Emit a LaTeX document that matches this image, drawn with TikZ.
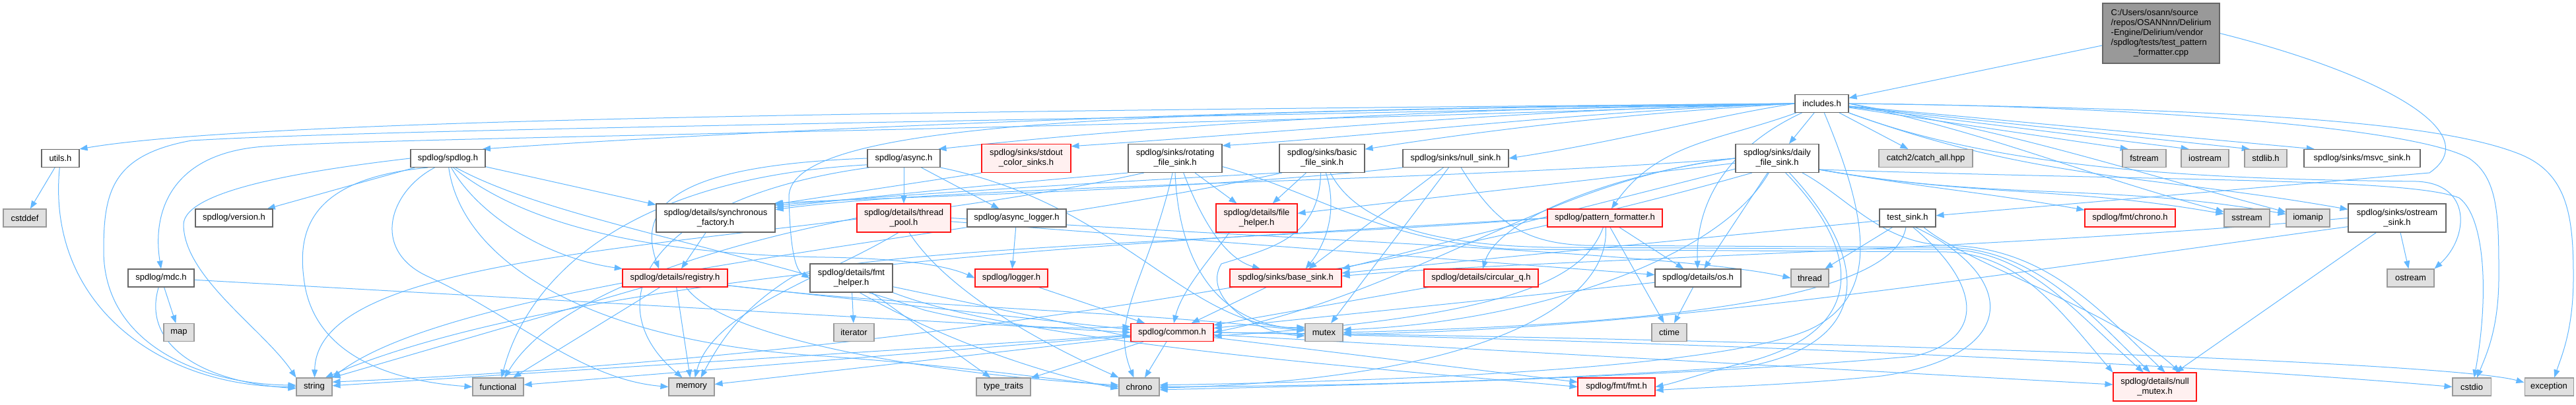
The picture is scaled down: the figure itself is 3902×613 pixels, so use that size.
\documentclass[tikz,border=0pt]{standalone}
\usepackage{fontspec}
\setmainfont{Liberation Sans}
\usetikzlibrary{arrows.meta}
\definecolor{edgec}{RGB}{99,184,255}
\definecolor{nborder}{RGB}{102,102,102}
\definecolor{sysfill}{RGB}{224,224,224}
\definecolor{sysborder}{RGB}{153,153,153}
\definecolor{redfill}{RGB}{255,240,240}
\definecolor{redborder}{RGB}{255,20,20}
\definecolor{topfill}{RGB}{153,153,153}
\pgfdeclarelayer{bg}
\pgfdeclarelayer{edges}
\pgfsetlayers{bg,edges,main}
\tikzset{
  nbase/.style={rectangle, inner sep=0pt, align=center, font=\fontsize{13}{15}\selectfont, line width=1.1pt, minimum height=27pt},
  hdr/.style={nbase, draw=nborder, fill=white},
  redn/.style={nbase, draw=redborder, fill=redfill},
  sysn/.style={nbase, draw=sysborder, fill=sysfill},
  topn/.style={nbase, draw=nborder, fill=topfill},
  twoline/.style={minimum height=43pt},
  dep/.style={draw=edgec, line width=1pt, -{Triangle[length=12pt,width=9pt]}},
}
\begin{document}
\begin{tikzpicture}[x=1pt,y=1pt]
\begin{pgfonlayer}{bg}
\fill[white] (0,0) rectangle (3902,-613);
\end{pgfonlayer}
\useasboundingbox (0,0) rectangle (3902,-613);

% ---------------- nodes ----------------
\node[topn, minimum width=177pt, minimum height=91pt] (top) at (3273.5,-50.5) {\begin{tabular}{@{}l@{}}C:/Users/osann/source\\/repos/OSANNnn/Delirium\\-Engine/Delirium/vendor\\/spdlog/tests/test\_pattern\\\multicolumn{1}{@{}c@{}}{\_formatter.cpp}\end{tabular}};
\node[hdr, minimum width=81pt] (inc) at (2759.5,-157) {includes.h};
\node[hdr, minimum width=57pt] (utils) at (91.5,-240) {utils.h};
\node[sysn, minimum width=65pt] (cstddef) at (37.5,-330.5) {cstddef};
\node[hdr, minimum width=117pt] (version) at (354.5,-330.5) {spdlog/version.h};
\node[hdr, minimum width=100pt] (mdc) at (244,-421.5) {spdlog/mdc.h};
\node[sysn, minimum width=46pt] (map) at (271,-504) {map};
\node[sysn, minimum width=54pt] (str) at (476,-586.5) {string};
\node[hdr, minimum width=113pt] (spd) at (678.5,-240) {spdlog/spdlog.h};
\node[hdr, twoline, minimum width=180pt] (sync) at (1084,-330.5) {spdlog/details/synchronous\\\_factory.h};
\node[redn, minimum width=159pt] (reg) at (1022.5,-421.5) {spdlog/details/registry.h};
\node[sysn, minimum width=77pt] (func) at (754.5,-586.5) {functional};
\node[sysn, minimum width=69pt] (mem) at (1047.5,-586.5) {memory};
\node[hdr, minimum width=110pt] (async) at (1369,-240) {spdlog/async.h};
\node[redn, twoline, minimum width=135pt] (stdc) at (1554.5,-240) {spdlog/sinks/stdout\\\_color\_sinks.h};
\node[hdr, twoline, minimum width=142pt] (rot) at (1780,-240) {spdlog/sinks/rotating\\\_file\_sink.h};
\node[redn, twoline, minimum width=142pt] (tp) at (1369,-330.5) {spdlog/details/thread\\\_pool.h};
\node[hdr, minimum width=150pt] (alog) at (1540,-330.5) {spdlog/async\_logger.h};
\node[hdr, twoline, minimum width=125pt] (fmth) at (1289.5,-421.5) {spdlog/details/fmt\\\_helper.h};
\node[redn, minimum width=110pt] (logger) at (1532,-421.5) {spdlog/logger.h};
\node[sysn, minimum width=61pt] (iter) at (1293.5,-504) {iterator};
\node[redn, minimum width=125pt] (common) at (1775.5,-504) {spdlog/common.h};
\node[sysn, minimum width=82pt] (tt) at (1520,-586.5) {type\_traits};
\node[sysn, minimum width=61pt] (chrono) at (1725.5,-586.5) {chrono};
\node[hdr, twoline, minimum width=129pt] (basic) at (2002.5,-240) {spdlog/sinks/basic\\\_file\_sink.h};
\node[hdr, minimum width=160pt] (nulls) at (2205,-240) {spdlog/sinks/null\_sink.h};
\node[redn, twoline, minimum width=123pt] (fileh) at (1903.5,-330.5) {spdlog/details/file\\\_helper.h};
\node[redn, minimum width=174pt] (pf) at (2431,-330.5) {spdlog/pattern\_formatter.h};
\node[redn, minimum width=169pt] (bsink) at (1947.5,-421.5) {spdlog/sinks/base\_sink.h};
\node[redn, minimum width=173pt] (circ) at (2243.5,-421.5) {spdlog/details/circular\_q.h};
\node[sysn, minimum width=57pt] (mutex) at (2005.5,-504) {mutex};
\node[redn, minimum width=117pt] (fmt) at (2448.5,-586.5) {spdlog/fmt/fmt.h};
\node[hdr, twoline, minimum width=126pt] (daily) at (2692,-240) {spdlog/sinks/daily\\\_file\_sink.h};
\node[sysn, minimum width=142pt] (catch) at (2917,-240) {catch2/catch\_all.hpp};
\node[hdr, minimum width=85pt] (tsink) at (2889.5,-330.5) {test\_sink.h};
\node[hdr, minimum width=130pt] (os) at (2572,-421.5) {spdlog/details/os.h};
\node[sysn, minimum width=57pt] (thread) at (2741.5,-421.5) {thread};
\node[sysn, minimum width=53pt] (ctime) at (2528.5,-504) {ctime};
\node[sysn, minimum width=66pt] (fstream) at (3248,-240) {fstream};
\node[sysn, minimum width=72pt] (iostream) at (3340,-240) {iostream};
\node[sysn, minimum width=64pt] (stdlib) at (3432,-240) {stdlib.h};
\node[hdr, minimum width=176pt] (msvc) at (3578,-240) {spdlog/sinks/msvc\_sink.h};
\node[redn, minimum width=137pt] (fchrono) at (3226.5,-330.5) {spdlog/fmt/chrono.h};
\node[sysn, minimum width=69pt] (sstream) at (3403.5,-330.5) {sstream};
\node[sysn, minimum width=66pt] (iomanip) at (3496,-330.5) {iomanip};
\node[hdr, twoline, minimum width=148pt] (osink) at (3631,-330.5) {spdlog/sinks/ostream\\\_sink.h};
\node[sysn, minimum width=71pt] (ostream) at (3651.5,-421.5) {ostream};
\node[redn, twoline, minimum width=126pt] (nmutex) at (3264,-586.5) {spdlog/details/null\\\_mutex.h};
\node[sysn, minimum width=58pt] (cstdio) at (3744,-586.5) {cstdio};
\node[sysn, minimum width=74pt] (exc) at (3861,-586.5) {exception};

% ---------------- edges ----------------
\begin{pgfonlayer}{edges}
% source file
\draw[dep] (top) -- (inc);
\draw[dep] (top.east) .. controls (3600,-110) and (3770,-200) .. (3680,-262) -- (tsink);
% includes.h
\draw[dep] (inc) -- (catch);
\draw[dep] (inc) -- (daily);
\draw[dep] (inc) to[out=200,in=55] (pf);
\draw[dep] (inc) to[out=205,in=92] (os);
\draw[dep] (inc.-75) .. controls (2830,-330) and (2850,-450) .. (2740,-500) .. controls (2600,-560) and (2100,-578) .. (chrono.5);
\draw[dep] (inc.west) .. controls (1900,-162) and (1100,-200) .. (spd.15);
\draw[dep] (inc.west) .. controls (2200,-164) and (1800,-185) .. (async.15);
\draw[dep] (inc.west) .. controls (2300,-166) and (1950,-200) .. (stdc.15);
\draw[dep] (inc.west) .. controls (2400,-168) and (2100,-205) .. (rot.15);
\draw[dep] (inc.west) .. controls (2500,-170) and (2300,-190) .. (basic.12);
\draw[dep] (inc.west) .. controls (2600,-175) and (2450,-215) .. (nulls.east);
\draw[dep] (inc.west) .. controls (1800,-170) and (1190,-175) .. (1195,-300) .. controls (1197,-380) and (1205,-410) .. (fmth.west);
\draw[dep] (inc.west) .. controls (1500,-200) and (600,-208) .. (400,-222) .. controls (260,-232) and (230,-320) .. (mdc.north);
\draw[dep] (inc.west) .. controls (1500,-168) and (400,-178) .. (utils.north east);
\draw[dep] (inc.west) .. controls (1500,-185) and (600,-195) .. (290,-213) .. controls (170,-235) and (157,-290) .. (157,-380) .. controls (157,-520) and (300,-582) .. (str.175);
\draw[dep] (inc) -- (fstream.150);
\draw[dep] (inc) -- (iostream.150);
\draw[dep] (inc) -- (stdlib.150);
\draw[dep] (inc) -- (msvc.169);
\draw[dep] (inc.east) to[out=-12,in=165] (sstream);
\draw[dep] (inc.east) to[out=-10,in=165] (iomanip);
\draw[dep] (inc.south east) to[out=-20,in=170] (osink);
\draw[dep] (inc.south east) .. controls (3050,-265) and (3400,-272) .. (3660,-275) .. controls (3745,-278) and (3740,-360) .. (ostream.north east);
\draw[dep] (inc.east) .. controls (3200,-160) and (3650,-190) .. (3740,-240) .. controls (3785,-270) and (3785,-330) .. (3785,-420) .. controls (3785,-500) and (3765,-540) .. (cstdio.60);
\draw[dep] (inc.east) .. controls (3400,-165) and (3700,-185) .. (3820,-235) .. controls (3890,-265) and (3898,-330) .. (3898,-420) .. controls (3898,-500) and (3880,-540) .. (exc.60);
% daily_file_sink.h
\draw[dep] (daily.west) .. controls (2450,-262) and (2270,-330) .. (circ.80);
\draw[dep] (daily) -- (os);
\draw[dep] (daily) -- (fileh);
\draw[dep] (daily) -- (bsink.north east);
\draw[dep] (daily.west) .. controls (2200,-275) and (1450,-280) .. (sync.8);
\draw[dep] (daily.west) .. controls (2350,-270) and (2150,-440) .. (common.east);
\draw[dep] (daily.-15) to[out=-10,in=170] (fchrono);
\draw[dep] (daily.-15) to[out=-10,in=170] (sstream);
\draw[dep] (daily.-15) to[out=-10,in=170] (iomanip);
\draw[dep] (daily.-30) .. controls (2800,-300) and (2850,-370) .. (2950,-372) .. controls (3100,-375) and (3180,-470) .. (nmutex.55);
\draw[dep] (daily.-60) .. controls (2820,-380) and (2830,-500) .. (2650,-548) .. controls (2580,-565) and (2540,-580) .. (fmt.east);
\draw[dep] (daily.-50) .. controls (2840,-400) and (2830,-520) .. (2650,-555) .. controls (2300,-580) and (2000,-585) .. (chrono.east);
\draw[dep] (daily.-15) .. controls (3300,-275) and (3650,-270) .. (3725,-300) .. controls (3765,-330) and (3770,-450) .. (cstdio.75);
\draw[dep] (daily.-120) .. controls (2600,-400) and (2300,-490) .. (mutex.8);
\draw[dep] (daily.-150) .. controls (2100,-420) and (1300,-545) .. (str.15);
% pattern_formatter.h
\draw[dep] (pf) -- (os);
\draw[dep] (pf) -- (ctime);
\draw[dep] (pf.-100) .. controls (2400,-420) and (2300,-480) .. (common.-5);
\draw[dep] (pf.-85) .. controls (2440,-460) and (2250,-575) .. (chrono.-3);
\draw[dep] (pf.west) .. controls (2000,-360) and (1300,-375) .. (1200,-420) .. controls (1120,-470) and (1090,-520) .. (mem.45);
\draw[dep] (pf.west) .. controls (1800,-365) and (900,-400) .. (str.40);
% thread_pool.h
\draw[dep] (tp) -- (os);
\draw[dep] (tp.east) .. controls (2000,-365) and (2550,-385) .. (thread.west);
\draw[dep] (tp.-70) .. controls (1440,-450) and (1600,-530) .. (chrono.north west);
\draw[dep] (tp.west) .. controls (1150,-360) and (850,-430) .. (func.55);
\draw[dep] (tp.-110) .. controls (1250,-420) and (1080,-470) .. (mem.70);
% spdlog.h
\draw[dep] (spd) -- (version);
\draw[dep] (spd) -- (sync);
\draw[dep] (spd.-70) .. controls (720,-320) and (820,-390) .. (reg.170);
\draw[dep] (spd.-60) .. controls (780,-330) and (950,-385) .. (1250,-390) .. controls (1380,-392) and (1440,-405) .. (logger.west);
\draw[dep] (spd.-50) .. controls (830,-330) and (1100,-372) .. (1400,-470) .. controls (1500,-495) and (1600,-500) .. (common.172);
\draw[dep] (spd.-85) .. controls (700,-400) and (900,-520) .. (1250,-540) .. controls (1450,-555) and (1600,-575) .. (chrono.180);
\draw[dep] (spd.-155) .. controls (480,-270) and (450,-340) .. (460,-420) .. controls (470,-520) and (560,-575) .. (func.west);
\draw[dep] (spd.-145) .. controls (590,-290) and (560,-380) .. (650,-420) .. controls (780,-480) and (880,-575) .. (mem.west);
\draw[dep] (spd.west) .. controls (450,-260) and (280,-290) .. (278,-340) .. controls (278,-420) and (400,-500) .. (str.north west);
% async.h
\draw[dep] (async) -- (tp);
\draw[dep] (async) -- (alog);
\draw[dep] (async.west) .. controls (1050,-250) and (960,-300) .. (reg.150);
\draw[dep] (async.-170) .. controls (950,-270) and (800,-420) .. (func.70);
\draw[dep] (async.-165) .. controls (980,-300) and (900,-460) .. (mem.135);
\draw[dep] (async.south east) .. controls (1700,-310) and (1800,-500) .. (mutex.165);
\draw[dep] (alog) -- (logger);
\draw[dep] (stdc.south west) -- (sync.13);
% synchronous_factory.h / registry.h
\draw[dep] (sync) -- (reg);
\draw[dep] (reg.-8) -- (common.176);
\draw[dep] (reg.-8) .. controls (1400,-468) and (1700,-470) .. (mutex.175);
\draw[dep] (reg) -- (str.north east);
\draw[dep] (reg) -- (func);
\draw[dep] (reg) -- (mem);
\draw[dep] (reg.-40) .. controls (1100,-520) and (1450,-570) .. (chrono.175);
% fmt_helper.h / logger.h
\draw[dep] (fmth) -- (iter);
\draw[dep] (fmth) -- (tt);
\draw[dep] (fmth.-60) .. controls (1400,-500) and (1550,-560) .. (chrono.-175);
\draw[dep] (fmth) -- (common.-174);
\draw[dep] (fmth.south east) .. controls (1550,-520) and (2100,-560) .. (fmt.west);
\draw[dep] (logger) -- (common);
% common.h
\draw[dep] (common) -- (chrono);
\draw[dep] (common) -- (tt);
\draw[dep] (common) -- (str);
\draw[dep] (common) -- (func);
\draw[dep] (common) -- (mem);
\draw[dep] (common) -- (fmt);
\draw[dep] (common) -- (nmutex);
\draw[dep] (common.east) .. controls (2500,-515) and (3300,-550) .. (cstdio.west);
\draw[dep] (common.east) .. controls (2500,-510) and (3700,-545) .. (exc.170);
% rotating_file_sink.h
\draw[dep] (rot.south west) .. controls (1500,-280) and (1300,-300) .. (sync.10);
\draw[dep] (rot) -- (fileh);
\draw[dep] (rot.-60) .. controls (1815,-320) and (1850,-390) .. (bsink.160);
\draw[dep] (rot.-100) .. controls (1740,-420) and (1680,-480) .. (chrono.120);
\draw[dep] (rot.-90) .. controls (1785,-380) and (1830,-490) .. (mutex.170);
\draw[dep] (rot.-10) .. controls (1990,-290) and (2100,-370) .. (2300,-378) -- (2950,-382) .. controls (3060,-386) and (3120,-470) .. (nmutex.161);
\draw[dep] (rot.-155) .. controls (1200,-380) and (480,-360) .. (str.88);
% basic_file_sink.h
\draw[dep] (basic.south west) .. controls (1600,-280) and (1300,-300) .. (sync.12);
\draw[dep] (basic) -- (fileh);
\draw[dep] (basic.-75) .. controls (2030,-330) and (2000,-380) .. (bsink.25);
\draw[dep] (basic.-95) .. controls (1998,-360) and (1930,-375) .. (1850,-400) .. controls (1820,-450) and (1900,-505) .. (mutex.-170);
\draw[dep] (basic.-60) .. controls (2050,-330) and (2150,-372) .. (2350,-375) -- (2950,-378) .. controls (3070,-380) and (3140,-470) .. (nmutex.128);
\draw[dep] (basic.-160) .. controls (1500,-360) and (700,-420) .. (str.north east);
% null_sink.h
\draw[dep] (nulls.south west) .. controls (1800,-290) and (1300,-300) .. (sync.14);
\draw[dep] (nulls) -- (bsink.22);
\draw[dep] (nulls) -- (mutex);
\draw[dep] (nulls.-60) .. controls (2260,-330) and (2300,-368) .. (2400,-372) -- (2950,-375) .. controls (3080,-378) and (3160,-470) .. (nmutex.108);
% details
\draw[dep] (fileh.-152) .. controls (1835,-390) and (1790,-440) .. (common.80);
\draw[dep] (bsink) -- (common);
\draw[dep] (circ) -- (common);
\draw[dep] (os) -- (ctime);
\draw[dep] (os) -- (common);
% mdc.h / utils.h
\draw[dep] (mdc) -- (map);
\draw[dep] (mdc.-105) .. controls (215,-520) and (300,-578) .. (str.-175);
\draw[dep] (mdc) -- (common.180);
\draw[dep] (utils) -- (cstddef);
\draw[dep] (utils.-95) .. controls (70,-460) and (240,-586) .. (str.west);
% test_sink.h
\draw[dep] (tsink) -- (thread);
\draw[dep] (tsink.-100) .. controls (2870,-440) and (2600,-490) .. (mutex.east);
\draw[dep] (tsink) -- (bsink.5);
\draw[dep] (tsink.-60) .. controls (2990,-420) and (3020,-510) .. (2900,-540) .. controls (2500,-575) and (2000,-585) .. (chrono.-8);
\draw[dep] (tsink.-50) .. controls (3060,-420) and (3060,-540) .. (2850,-570) .. controls (2700,-585) and (2600,-586) .. (fmt.-5);
\draw[dep] (tsink.-30) .. controls (2980,-400) and (3200,-470) .. (nmutex.30);
% ostream_sink.h
\draw[dep] (osink) -- (ostream);
\draw[dep] (osink) -- (nmutex);
\draw[dep] (osink.west) .. controls (3000,-380) and (2300,-395) .. (bsink.2);
\draw[dep] (osink.-170) .. controls (3000,-420) and (2500,-500) .. (mutex.-5);
\end{pgfonlayer}
\end{tikzpicture}
\end{document}
